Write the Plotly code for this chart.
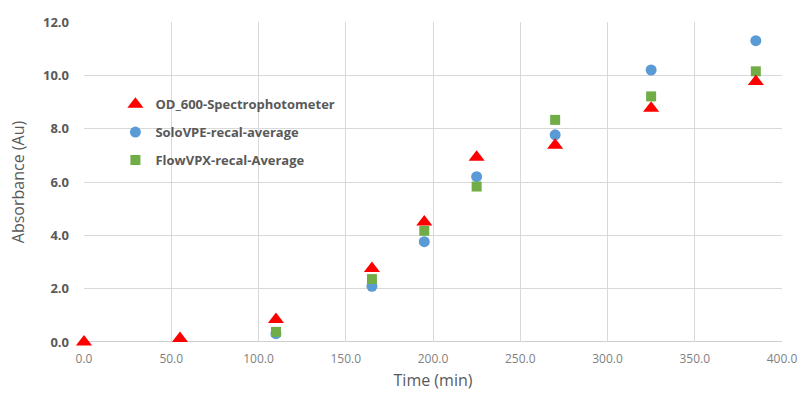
import plotly.graph_objects as go

time_od = [0, 55, 110, 165, 195, 225, 270, 325, 385]
od600 = [0.0, 0.13, 0.84, 2.76, 4.5, 6.93, 7.38, 8.77, 9.77]

time_solo = [110, 165, 195, 225, 270, 325, 385]
solo = [0.31, 2.09, 3.76, 6.2, 7.77, 10.2, 11.3]

time_flow = [110, 165, 195, 225, 270, 325, 385]
flow = [0.38, 2.36, 4.17, 5.83, 8.33, 9.21, 10.15]

names = ["OD_600-Spectrophotometer", "SoloVPE-recal-average", "FlowVPX-recal-Average"]

fig = go.Figure()
fig.add_trace(go.Scatter(x=time_solo, y=solo, mode="markers", name=names[1], legendgroup="b", legendrank=2,
                         marker=dict(symbol="circle", size=11, color="#5b9bd5"), cliponaxis=False))
fig.add_trace(go.Scatter(x=time_flow, y=flow, mode="markers", name=names[2], legendgroup="c", legendrank=3,
                         marker=dict(symbol="square", size=10, color="#70ad47"), cliponaxis=False))
fig.add_trace(go.Scatter(x=time_od, y=od600, mode="markers", name=names[0], legendgroup="a", legendrank=1,
                         marker=dict(symbol="triangle-up", size=14, color="#ff0000"), cliponaxis=False))

fig.update_layout(
    width=801, height=399, autosize=False,
    margin=dict(l=84, r=19, t=22, b=57),
    paper_bgcolor="white", plot_bgcolor="white",
    font=dict(family="Open Sans", color="#595959"),
    showlegend=True,
    legend=dict(x=0.045, y=0.79, xanchor="left", yanchor="top", traceorder="grouped",
                tracegroupgap=8, itemwidth=30,
                font=dict(size=13, color="#595959", family="Open Sans", weight="bold"),
                bgcolor="rgba(0,0,0,0)"),
    xaxis=dict(range=[0, 400], dtick=50, tickformat=".1f", showgrid=True, gridcolor="#d9d9d9",
               zeroline=False, showline=False, ticks="", ticklabelstandoff=8,
               ticklabeloverflow="allow", automargin=False,
               tickfont=dict(size=12, color="#7f7f7f"),
               title=dict(text="Time (min)", font=dict(size=16, color="#595959"), standoff=8)),
    yaxis=dict(range=[0, 12], dtick=2, tickformat=".1f", showgrid=True, gridcolor="#d9d9d9",
               zeroline=False, showline=False, ticks="", ticklabelstandoff=14, automargin=False,
               tickfont=dict(size=13, color="#595959", weight="bold"),
               title=dict(text="Absorbance (Au)", font=dict(size=16, color="#595959"), standoff=14)),
)
fig.add_shape(type="line", xref="paper", yref="y", x0=0, x1=1, y0=0, y1=0,
              line=dict(color="#bfbfbf", width=1.5), layer="below")

fig.write_html("out.html",
               config={"responsive": False, "displayModeBar": False},
               post_script="document.body.style.margin='0';document.body.style.overflow='hidden';")
